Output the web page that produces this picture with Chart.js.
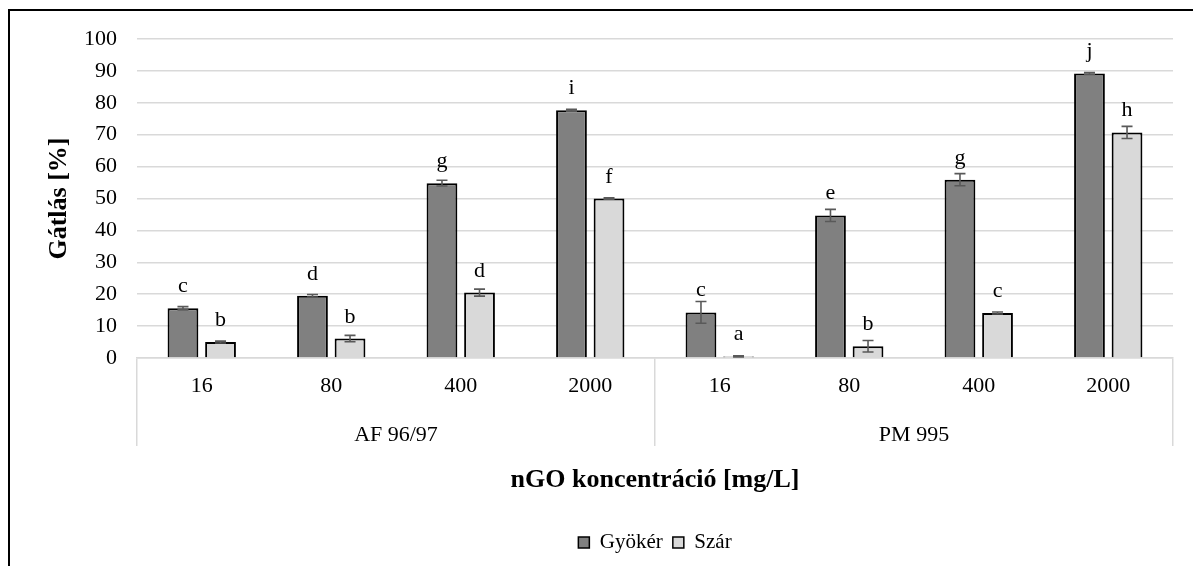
<!DOCTYPE html>
<html>
<head>
<meta charset="utf-8">
<script src="https://cdn.jsdelivr.net/npm/chart.js@4.4.1/dist/chart.umd.min.js"></script>
<style>
  html, body { margin: 0; padding: 0; background: #fff; overflow: hidden; }
  #wrap { position: relative; width: 1193px; height: 566px; }
  #frame { position: absolute; left: 8px; top: 9px; width: 1300px; height: 700px;
           border-left: 2px solid #000; border-top: 2px solid #000; pointer-events: none; }
  canvas { position: absolute; left: 0; top: 0; }
</style>
</head>
<body>
<div id="wrap">
  <canvas id="c" width="1193" height="566"></canvas>
  <div id="frame"></div>
</div>
<script>
const categories = ['16', '80', '400', '2000', '16', '80', '400', '2000'];
const groups = ['AF 96/97', 'PM 995'];
const seriesNames = ['Gyökér', 'Szár'];
const gyoker = [15.6, 19.5, 54.8, 77.7, 14.3, 44.7, 55.9, 89.2];
const gyokerErr = [0.5, 0.4, 0.9, 0.3, 3.4, 1.9, 1.9, 0.3];
const gyokerLetters = ['c', 'd', 'g', 'i', 'c', 'e', 'g', 'j'];
const szar = [5.0, 6.1, 20.5, 50.0, 0.5, 3.7, 14.1, 70.7];
const szarErr = [0.3, 1.0, 1.1, 0.2, 0.2, 1.8, 0.3, 1.9];
const szarLetters = ['b', 'b', 'd', 'f', 'a', 'b', 'c', 'h'];
const yTicks = [0, 10, 20, 30, 40, 50, 60, 70, 80, 90, 100];
const xTitle = 'nGO koncentráció [mg/L]';
const yTitle = 'Gátlás [%]';

const errors = [gyokerErr, szarErr];
const letters = [gyokerLetters, szarLetters];
const FONT = "'Liberation Serif', 'Times New Roman', serif";

const errorAndLetters = {
  id: 'errorAndLetters',
  beforeDraw(chart) {
    // centre the legend under the plot area, as in the reference
    if (chart.legend) {
      chart.legend.left = chart.chartArea.left;
      chart.legend.right = chart.chartArea.right;
    }
  },
  afterDatasetsDraw(chart) {
    const ctx = chart.ctx;
    const y = chart.scales.y;
    chart.data.datasets.forEach((ds, di) => {
      const meta = chart.getDatasetMeta(di);
      meta.data.forEach((bar, i) => {
        const v = ds.data[i];
        const e = errors[di][i];
        const yHi = y.getPixelForValue(v + e);
        const yLo = y.getPixelForValue(v - e);
        const cap = 5.5;
        ctx.save();
        ctx.strokeStyle = '#595959';
        ctx.lineWidth = 1.6;
        ctx.beginPath();
        ctx.moveTo(bar.x, yHi); ctx.lineTo(bar.x, yLo);
        ctx.moveTo(bar.x - cap, yHi); ctx.lineTo(bar.x + cap, yHi);
        ctx.moveTo(bar.x - cap, yLo); ctx.lineTo(bar.x + cap, yLo);
        ctx.stroke();
        ctx.fillStyle = '#000';
        ctx.font = '22px ' + FONT;
        ctx.textAlign = 'center';
        ctx.textBaseline = 'alphabetic';
        ctx.fillText(letters[di][i], bar.x, y.getPixelForValue(v) - 16);
        ctx.restore();
      });
    });
  }
};

new Chart(document.getElementById('c'), {
  type: 'bar',
  data: {
    labels: categories,
    datasets: [
      { label: seriesNames[0], data: gyoker, backgroundColor: '#808080', borderColor: '#000', borderWidth: 2 },
      { label: seriesNames[1], data: szar, backgroundColor: '#d9d9d9', borderColor: '#000', borderWidth: 2 }
    ]
  },
  options: {
    responsive: false,
    animation: false,
    events: [],
    categoryPercentage: 0.58,
    barPercentage: 0.82,
    layout: { padding: { left: 8, right: 20, top: 39, bottom: 3 } },
    plugins: {
      tooltip: { enabled: false },
      legend: {
        position: 'bottom',
        labels: {
          font: { family: FONT, size: 21 },
          color: '#000',
          boxWidth: 11,
          boxHeight: 11,
          padding: 10,
          generateLabels(chart) {
            return chart.data.datasets.map((ds, i) => ({
              text: ds.label,
              fillStyle: ds.backgroundColor,
              strokeStyle: '#000',
              lineWidth: 1.5,
              datasetIndex: i,
              hidden: false
            }));
          }
        }
      }
    },
    scales: {
      x: {
        type: 'category',
        position: 'bottom',
        weight: 0,
        offset: true,
        grid: {
          offset: true,
          drawOnChartArea: false,
          drawTicks: true,
          tickLength: 88,
          lineWidth: 1.5,
          color: (c) => (c.index === undefined || c.index % 4 === 0) ? '#d9d9d9' : 'rgba(0,0,0,0)'
        },
        border: { display: true, color: '#d9d9d9', width: 1.5 },
        ticks: { font: { family: FONT, size: 22 }, color: '#000', padding: -73, maxRotation: 0, autoSkip: false },
        afterFit: (s) => { s.height = 40; }
      },
      x2: {
        type: 'category',
        labels: groups,
        position: 'bottom',
        weight: 1,
        offset: true,
        grid: { display: false },
        border: { display: false },
        ticks: { font: { family: FONT, size: 22 }, color: '#000', padding: 16, maxRotation: 0 },
        title: {
          display: true,
          text: xTitle,
          font: { family: FONT, size: 26, weight: 'bold' },
          color: '#000',
          padding: { top: 20, bottom: 26 }
        },
        afterFit: (s) => { s.height = 124; }
      },
      y: {
        min: 0,
        max: 100,
        afterBuildTicks: (s) => { s.ticks = yTicks.map(v => ({ value: v })); },
        grid: { color: '#d9d9d9', lineWidth: 1.5, drawTicks: false },
        border: { display: false },
        ticks: { font: { family: FONT, size: 22 }, color: '#000', padding: 20 },
        title: {
          display: true,
          text: yTitle,
          font: { family: FONT, size: 26, weight: 'bold' },
          color: '#000',
          padding: { top: 36, bottom: 0 }
        },
        afterFit: (s) => { s.width = 129; }
      }
    }
  },
  plugins: [errorAndLetters]
});
</script>
</body>
</html>
